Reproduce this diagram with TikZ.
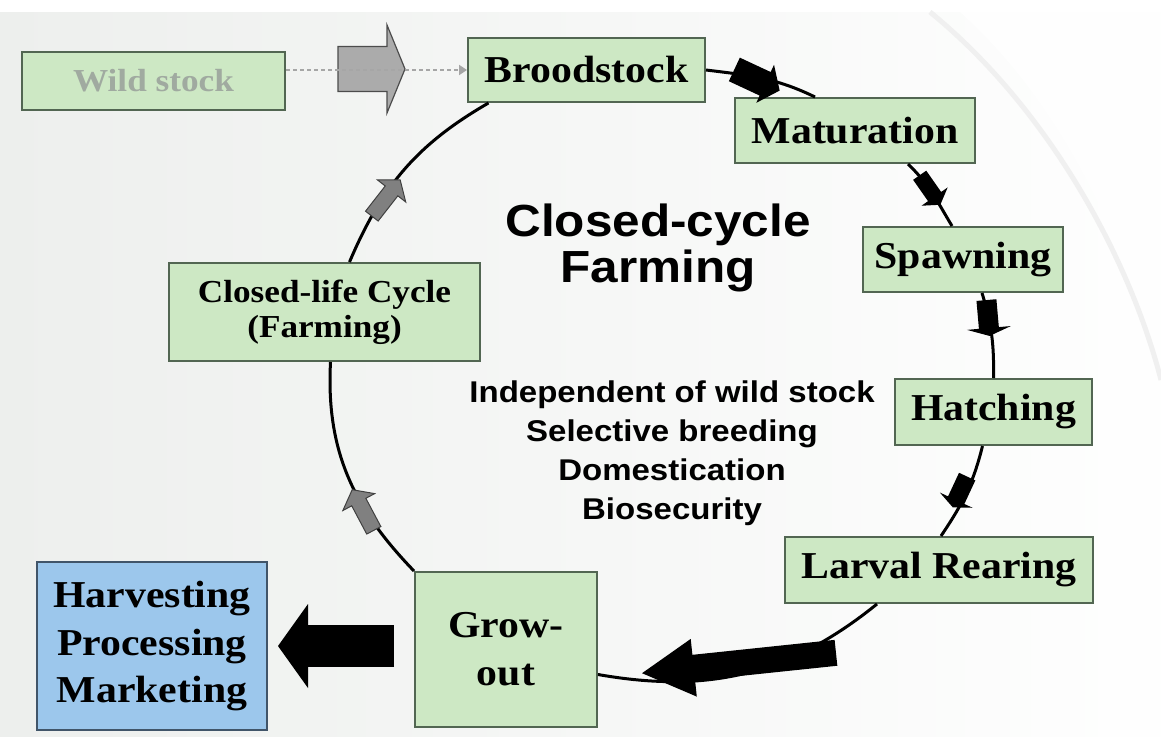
\documentclass[tikz,border=0pt]{standalone}
\usepackage{fontspec}
\setmainfont[FakeStretch=1.1]{Liberation Serif}
\setsansfont[FakeStretch=1.1]{Liberation Sans}
\usetikzlibrary{arrows.meta}

\definecolor{boxgreen}{RGB}{205,232,196}
\definecolor{boxline}{RGB}{82,102,82}
\definecolor{harvblue}{RGB}{156,199,236}
\definecolor{harvline}{RGB}{65,85,105}
\definecolor{wildtext}{RGB}{160,170,160}
\definecolor{pagebg}{RGB}{237,239,237}

\tikzset{
  pics/blockarr/.style args={#1/#2/#3/#4}{code={
    \path[pic actions] (-#1/2,-#3/2) -- (#1/2-#4,-#3/2) -- (#1/2-#4,-#2/2) -- (#1/2,0)
      -- (#1/2-#4,#2/2) -- (#1/2-#4,#3/2) -- (-#1/2,#3/2) -- cycle;
  }}
}

\begin{document}
\begin{tikzpicture}[x=1pt, y=-1pt,
  stagebox/.style={rectangle, draw=boxline, fill=boxgreen, line width=2pt,
                   inner sep=0pt, align=center,
                   font=\fontsize{38}{48}\selectfont\bfseries},
  smallbox/.style={stagebox, font=\fontsize{32}{35}\selectfont\bfseries},
  wildbox/.style={smallbox, text=wildtext},
  endbox/.style={stagebox, fill=harvblue, draw=harvline},
  ring/.style={line width=3pt, black},
  harvarr/.style={line width=42pt, -{Triangle[width=84pt,length=30pt,line width=0pt]},
                  shorten <=20pt, shorten >=10pt},
  dotline/.style={black!35, line width=2.5pt, dash pattern=on 4pt off 3pt,
                  -{Triangle[width=10pt,length=8pt]}},
  blackmark/.style={fill=black},
  graymark/.style={fill=black!50, draw=black!75, line width=1pt},
  wildmark/.style={fill=black!33, draw=black!70, line width=1.2pt}
]
% page
\useasboundingbox (0,0) rectangle (1161,736);
\fill[white] (0,0) rectangle (1161,736);
\shade[left color=pagebg, right color=white!97!pagebg] (0,12) rectangle (1161,736);
\fill[white, opacity=.8] (960,12) .. controls (1070,110) and (1150,280) .. (1161,430) -- (1161,12) -- cycle;
\draw[black!6, line width=5pt] (930,12) .. controls (1050,110) and (1130,260) .. (1161,380);

% stages
\node[wildbox, minimum width=263, minimum height=58] (wild) at (153.5,81) {Wild stock};
\node[stagebox, minimum width=237, minimum height=64] (brood) at (586.5,70) {Broodstock};
\node[stagebox, minimum width=240, minimum height=65] (mat) at (855,130.5) {Maturation};
\node[stagebox, minimum width=200, minimum height=65] (spawn) at (963,259.5) {Spawning};
\node[stagebox, minimum width=197, minimum height=66] (hatch) at (993.5,412) {Hatching};
\node[stagebox, minimum width=308, minimum height=66] (larval) at (939,570) {Larval Rearing};
\node[stagebox, minimum width=182, minimum height=155] (grow) at (506,649.5) {Grow-\\out};
\node[smallbox, minimum width=311, minimum height=98] (closed) at (324.5,312) {Closed-life Cycle\\(Farming)};
\node[endbox, minimum width=230, minimum height=168] (harvest) at (152,646) {Harvesting\\Processing\\Marketing};

\node[font=\sffamily\bfseries\fontsize{45}{46}\selectfont, align=center] (title) at (658,248) {Closed-cycle\\Farming};
\node[font=\sffamily\bfseries\fontsize{30}{39}\selectfont, align=center] (aims) at (672,453)
  {Independent of wild stock\\Selective breeding\\Domestication\\Biosecurity};

% the cycle
\draw[ring] (brood.east) to[out=-7,in=154] ([xshift=-40pt]mat.north);
\draw[ring] ([xshift=53pt]mat.south) to[out=-44,in=121] ([xshift=-11pt]spawn.north);
\draw[ring] ([xshift=19pt]spawn.south) to[out=-73,in=89] (hatch.north);
\draw[ring] ([xshift=-11pt]hatch.south) to[out=-104,in=56] ([xshift=2pt]larval.north);
\draw[ring] ([xshift=-62pt]larval.south) to[out=-141,in=-10] ([yshift=-25pt]grow.east);
\draw[ring] (grow.north west) to[out=134,in=-93] ([xshift=6pt]closed.south);
\draw[ring] ([xshift=25pt]closed.north) to[out=67,in=-150] ([xshift=-98pt]brood.south);

% markers on the cycle
\pic[blackmark, rotate=-25] at (757,80) {blockarr={50/42/26/16}};
\pic[blackmark, rotate=-55] at (930,190) {blockarr={36/32/16/10}};
\pic[blackmark, rotate=-85] at (988,318) {blockarr={36/44/20/8}};
\pic[blackmark, rotate=-115] at (960,492) {blockarr={34/36/18/8}};
\pic[blackmark, rotate=186] at (739,663) {blockarr={195/58/26/52}};
\pic[graymark, rotate=118] at (363,510) {blockarr={46/36/16/14}};
\pic[graymark, rotate=52] at (386,198) {blockarr={46/36/16/14}};

% wild stock input and harvest output
\pic[wildmark] at (371.5,69) {blockarr={67/88/45/18}};
\draw[dotline] (wild.east |- brood.west) -- (brood.west);
\draw[harvarr] (grow.west |- harvest.east) -- (harvest.east);
\end{tikzpicture}
\end{document}
